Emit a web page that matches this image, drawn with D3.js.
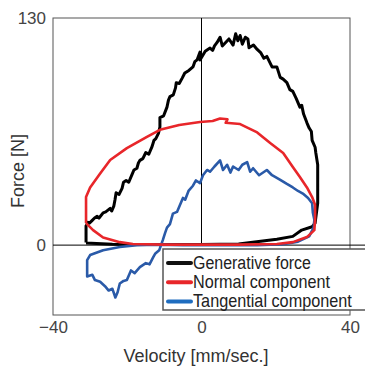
<!DOCTYPE html>
<html>
<head>
<meta charset="utf-8">
<script src="https://cdn.jsdelivr.net/npm/d3@7"></script>
<style>
body{margin:0;background:#fff;}
text{font-family:"Liberation Sans",Arial,sans-serif;}
</style>
</head>
<body>
<svg width="365" height="372"></svg>
<script>
// velocity [mm/sec.] and force [N]
var seriesNames=["Generative force","Normal component","Tangential component"];
var seriesColors=["#000000","#e8262a","#2a5aa8"];
var legendColors=["#111111","#e8262a","#1f6dbf"];
var xTicks=[-40,0,40];
var yTicks=[0,130];

var genV=[-31.1,-31.1,-30.6,-30.2,-29.5,-28.8,-28.1,-27.6,-26.5,-25.8,-24.6,-24.2,-23.6,-23.3,-23,-22.2,-21.4,-21,-20.3,-19.6,-18.7,-18.2,-17.4,-17,-16.6,-15.8,-15,-14.2,-13.3,-12.8,-12.3,-11.6,-11.2,-11.2,-10.2,-9.3,-8.9,-8.5,-7.6,-7,-6.8,-6,-5.2,-4.5,-3.4,-2.3,-1.8,-1.2,-0.4,-0.4,1,2.3,3,3.5,4.2,5,5.6,6.5,7.4,8.5,9.2,9.8,10.4,11,11.8,12.5,12.8,14,15,16,16.8,17.6,18.3,19,20.3,21.2,22,23,23.8,24.6,25.5,26.5,27,27.5,28.4,29,29.6,29.8,30.6,30.8,31.3,31.3,31.3,31.3,30.6,29.8,27,24.6,20.3,10,0,-15,-24,-31.1];
var genF=[1.5,11,13,12.5,14,15.5,16.5,15.5,18.5,19,21,19.5,22.5,26,30,29,32.5,36,37,36,40.5,43,44,47,48.5,49.5,53,52,56.5,60,61,64,67.6,73,74,79,83,85,86,90,93,92.5,95.6,98.5,100,102,105,106,110.5,106,111,112.8,111.5,114,116,119,114,116,118,114.5,121,117,120,115,119,118,113,114.5,112,110,107,108,105,102,102,96,95,93,89,88,84,79,80,75,70,67,65,60,56,52.7,46,41,30,24,12.6,10.5,8.6,5,3.4,0.6,0.3,0.3,0.5,1.2,1.5];

var normV=[-31.1,-31.1,-31.1,-30,-27.3,-24.6,-20.1,-14.7,-11.2,-6,-0.4,3,5,7,6.5,10.4,15,18.5,22,24.6,26.5,28.4,29.8,30.6,30.6,30.4,28.4,24.6,20.3,10,0,-10,-18.5,-22,-26.5,-29.2,-31.1];
var normF=[12.6,20,27.5,33,41,48.7,55.5,62,66,68.8,70.5,71,72.5,72,70,69.3,64.5,58.4,52.7,44.7,39,33,27.5,23,15,8.6,4.6,1.7,0.6,0.3,0.3,0.3,0.6,1.7,4.4,8.6,12.6];

var tanV=[-10.4,-9.8,-9.3,-8.5,-7.7,-6.6,-5,-4.4,-3.5,-2.3,-1.5,-0.4,0.4,1.5,2.3,3.5,5,5.8,6.9,7.8,8.5,10,11,12.3,13.1,13.9,15.5,17.6,19,21.1,23,24.6,26,27.3,28.7,29.8,30,30.4,30.2,29,26,22,15,5,-5,-12,-17.4,-22,-26.5,-30,-30.8,-30.8,-30.8,-29.4,-28.7,-27.3,-26,-25,-24,-23.2,-22.6,-22,-21,-20.1,-19,-18,-16.6,-15,-14,-13,-12.5,-11.4,-10.4];
var tanF=[3,7,10,12,18,19,27,26,31,34,37,35.5,40,43,42,45,48.5,43,46,41.5,45,43,46,47.5,42,44,40,43,40,37.5,35,33,31,29.5,27,24,18.5,14.5,10,5,2,0.5,0,0,0,0.3,0,-1.1,-2.9,-5.7,-8.6,-14,-18,-17,-20,-21,-23.5,-26,-25,-30,-27,-22,-20.5,-20,-14.5,-16,-12.6,-10.3,-11,-6.9,-5,-3,3];

var series=[
  {v:genV,f:genF,w:3},
  {v:normV,f:normF,w:2.6},
  {v:tanV,f:tanF,w:2.6}
];
var order=[0,2,1];

function main(){
var svg=d3.select("svg");
var x=d3.scaleLinear().domain([-40,40]).range([53,350]);
var y=d3.scaleLinear().domain([-40,130]).range([315,18]);

// frame
svg.append("rect")
.attr("x",x(-40)).attr("y",y(130))
.attr("width",x(40)-x(-40)).attr("height",y(-40)-y(130))
.attr("fill","none").attr("stroke","#555").attr("stroke-width",1);

// zero lines
svg.append("line")
.attr("x1",x(-40)).attr("x2",365).attr("y1",y(0)).attr("y2",y(0))
.attr("stroke","#000").attr("stroke-width",1);
svg.append("line")
.attr("x1",x(0)).attr("x2",x(0)).attr("y1",y(130)).attr("y2",y(0))
.attr("stroke","#000").attr("stroke-width",1);

var line=d3.line()
.x(function(d){return x(d[0]);})
.y(function(d){return y(d[1]);});

order.forEach(function(i){
  var s=series[i];
  var pts=s.v.map(function(v,j){return [v,s.f[j]];});
  svg.append("path")
  .attr("d",line(pts))
  .attr("fill","none")
  .attr("stroke",seriesColors[i])
  .attr("stroke-width",s.w)
  .attr("stroke-linejoin","round");
});

// axes
var xa=svg.append("g")
.attr("transform","translate(0,"+y(-40)+")")
.call(d3.axisBottom(x).tickValues(xTicks).tickSize(0).tickPadding(6));
var ya=svg.append("g")
.attr("transform","translate("+x(-40)+",0)")
.call(d3.axisLeft(y).tickValues(yTicks).tickSize(0).tickPadding(7));
[xa,ya].forEach(function(a){
  a.select(".domain").remove();
  a.selectAll("text").attr("font-size","17px").attr("fill","#444")
  .attr("font-family","'Liberation Sans',Arial,sans-serif");
});

svg.append("text")
.attr("x",196).attr("y",362)
.attr("text-anchor","middle")
.attr("font-size","18px").attr("fill","#333")
.text("Velocity [mm/sec.]");

svg.append("text")
.attr("transform","translate(24,171) rotate(-90)")
.attr("text-anchor","middle")
.attr("font-size","18px").attr("fill","#333")
.text("Force [N]");

// legend
var lg=svg.append("g");
lg.append("rect")
.attr("x",163).attr("y",249).attr("width",220).attr("height",61)
.attr("fill","#fff").attr("stroke","#555").attr("stroke-width",1.5);
var lens=[118,137,159];
seriesNames.forEach(function(n,i){
  var cy=263+i*19.3;
  lg.append("line")
  .attr("x1",168).attr("x2",191).attr("y1",cy).attr("y2",cy)
  .attr("stroke",legendColors[i]).attr("stroke-width",4)
  .attr("stroke-linecap","round");
  var t=lg.append("text")
  .attr("font-size","18px").attr("fill","#222")
  .text(n);
  var k=lens[i]/t.node().getComputedTextLength();
  t.attr("transform","translate(193,"+(cy+5.5)+") scale("+k+",1)");
});
}
main();
</script>
</body>
</html>
